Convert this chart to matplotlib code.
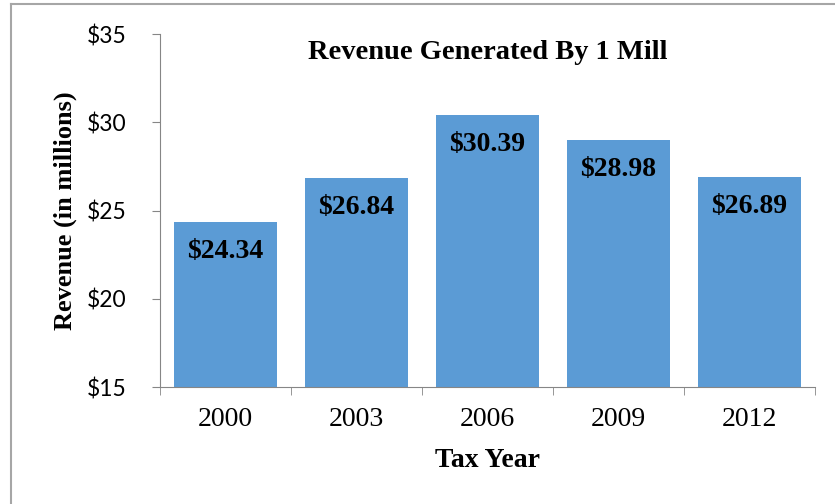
import matplotlib.pyplot as plt
import numpy as np

years = ['2000', '2003', '2006', '2009', '2012']
revenue = [24.34, 26.84, 30.39, 28.98, 26.89]
yticks = [15, 20, 25, 30, 35]

serif = 'Liberation Serif'
sans = 'Lato'

fig = plt.figure(figsize=(8.35, 5.04), dpi=100)
ax = fig.add_axes([0.1916, 0.232, 0.7844, 0.7005])

x = np.arange(len(years))
bars = ax.bar(x, revenue, width=0.79, color='#5B9BD5', zorder=2)

for b, v in zip(bars, revenue):
    ax.text(b.get_x() + b.get_width() / 2, v - 0.95, '$%.2f' % v,
            ha='center', va='top', fontsize=20, fontweight='bold', family=serif)

ax.set_xlim(-0.5, len(years) - 0.5)
ax.set_ylim(15, 35)
ax.set_yticks(yticks)
ax.set_yticklabels(['$%d' % t for t in yticks], family=sans, fontsize=16.5)
ax.set_xticks(x)
ax.set_xticklabels(years, family=serif, fontsize=20)
ax.set_xticks(np.arange(-0.5, len(years)), minor=True)
ax.tick_params(axis='x', which='major', length=0, pad=14)
ax.tick_params(axis='x', which='minor', length=6, color='#868686')
ax.tick_params(axis='y', length=6, color='#868686', pad=18)

for s in ['top', 'right']:
    ax.spines[s].set_visible(False)
for s in ['left', 'bottom']:
    ax.spines[s].set_color('#868686')

ax.set_title('Revenue Generated By 1 Mill', family=serif, fontsize=20.5,
             fontweight='bold', y=0.905)
ax.set_xlabel('Tax Year', family=serif, fontsize=20, fontweight='bold', labelpad=12)
ax.set_ylabel('Revenue (in millions)', family=serif, fontsize=19,
              fontweight='bold', labelpad=7)

# chart frame (only left and top edges visible in the crop)
fig.add_artist(plt.Line2D([0.0126, 0.0126], [0, 0.992], transform=fig.transFigure,
                          color='#a6a6a6', linewidth=1.5))
fig.add_artist(plt.Line2D([0.0126, 1], [0.992, 0.992], transform=fig.transFigure,
                          color='#a6a6a6', linewidth=1.5))

fig.savefig('out.png', dpi=100)
